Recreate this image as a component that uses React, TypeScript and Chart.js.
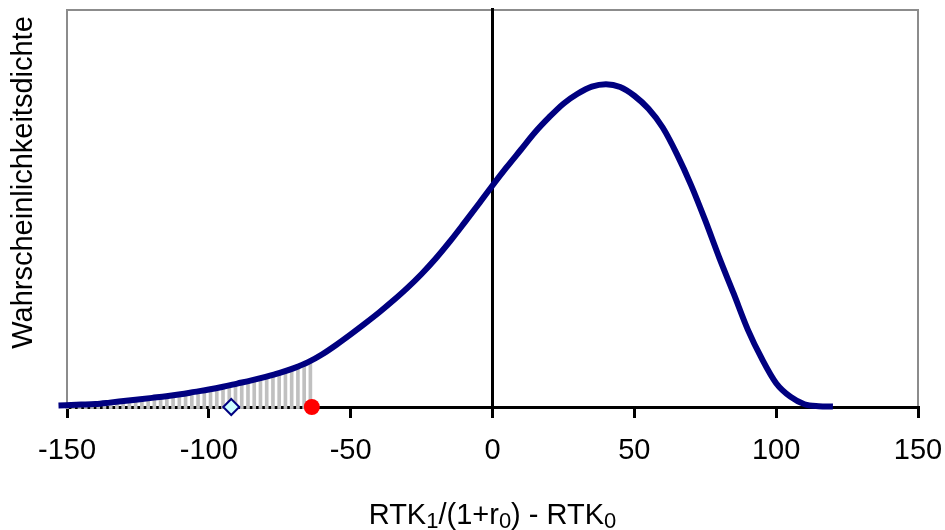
import React, { useEffect, useRef } from 'react';
import { Chart, registerables } from 'chart.js';

Chart.register(...registerables);

const FONT = '"Liberation Sans", Arial, Helvetica, sans-serif';

// x tick values of the horizontal axis
const xTicks = [-150, -100, -50, 0, 50, 100, 150];

// density curve (x = RTK1/(1+r0) - RTK0, y = relative density)
const curveX = [-153, -145, -140, -135, -130, -125, -120, -115, -110, -105, -100, -95, -90, -85, -80, -75, -70, -65, -60, -55, -50, -45, -40, -35, -30, -25, -20, -15, -10, -5, 0, 5, 10, 15, 20, 25, 30, 35, 40, 45, 50, 55, 60, 65, 70, 75, 80, 85, 90, 95, 100, 105, 110, 115, 120];
const curveY = [0.004, 0.006, 0.0075, 0.011, 0.015, 0.019, 0.023, 0.027, 0.032, 0.038, 0.044, 0.051, 0.059, 0.067, 0.076, 0.086, 0.098, 0.113, 0.133, 0.157, 0.183, 0.210, 0.238, 0.268, 0.300, 0.335, 0.374, 0.417, 0.463, 0.510, 0.558, 0.604, 0.648, 0.692, 0.730, 0.764, 0.789, 0.807, 0.813, 0.806, 0.784, 0.751, 0.704, 0.637, 0.559, 0.470, 0.375, 0.286, 0.195, 0.121, 0.060, 0.026, 0.007, 0.002, 0.001];

// shaded left tail (grey drop lines)
const tailX = [-150.0, -147.8, -145.6, -143.4, -141.2, -139.0, -136.8, -134.6, -132.4, -130.2, -128.0, -125.8, -123.6, -121.4, -119.2, -117.0, -114.8, -112.6, -110.4, -108.2, -106.0, -103.8, -101.6, -99.4, -97.2, -95.0, -92.8, -90.6, -88.4, -86.2, -84.0, -81.8, -79.6, -77.4, -75.2, -73.0, -70.8, -68.6, -66.4, -64.2];
const tailY = [0.004, 0.005, 0.006, 0.006, 0.007, 0.008, 0.010, 0.011, 0.013, 0.015, 0.016, 0.018, 0.020, 0.022, 0.023, 0.025, 0.027, 0.030, 0.032, 0.035, 0.037, 0.040, 0.043, 0.046, 0.048, 0.051, 0.055, 0.059, 0.063, 0.067, 0.070, 0.073, 0.077, 0.081, 0.086, 0.091, 0.096, 0.102, 0.108, 0.116];

// markers on the axis
const diamondX = [-92.1];
const diamondY = [0];
const dotX = [-63.7];
const dotY = [0];

// vertical line at zero
const zeroX = [0, 0];
const zeroY = [0, 1.005];

const yTitle = 'Wahrscheinlichkeitsdichte';
// [text, isSubscript]
const xTitleParts: [string, boolean][] = [
  ['RTK', false], ['1', true], ['/(1+r', false], ['0', true], [') - RTK', false], ['0', true],
];

const zip = (xs: number[], ys: number[]) => xs.map((x, i) => ({ x, y: ys[i] }));

const framePlugin = {
  id: 'frame',
  beforeDraw(chart: any) {
    const { ctx, chartArea } = chart;
    const { left, top, right, bottom } = chartArea;
    ctx.save();
    ctx.strokeStyle = '#8c8c8c';
    ctx.lineWidth = 2;
    ctx.strokeRect(left, top, right - left, bottom - top);
    ctx.restore();
  },
};

const titlesPlugin = {
  id: 'titles',
  afterDraw(chart: any) {
    const { ctx, chartArea } = chart;
    ctx.save();
    ctx.fillStyle = '#000';
    // y title
    ctx.save();
    ctx.translate(24, 182.5);
    ctx.rotate(-Math.PI / 2);
    ctx.font = `29px ${FONT}`;
    ctx.textAlign = 'center';
    ctx.textBaseline = 'middle';
    ctx.fillText(yTitle, 0, 0);
    ctx.restore();
    // x title with subscripts
    const mainFont = `29px ${FONT}`;
    const subFont = `22px ${FONT}`;
    let total = 0;
    const widths = xTitleParts.map(([t, sub]) => {
      ctx.font = sub ? subFont : mainFont;
      const w = ctx.measureText(t).width;
      total += w;
      return w;
    });
    const cx = (chartArea.left + chartArea.right) / 2;
    let x = cx - total / 2;
    ctx.textAlign = 'left';
    ctx.textBaseline = 'alphabetic';
    xTitleParts.forEach(([t, sub], i) => {
      ctx.font = sub ? subFont : mainFont;
      ctx.fillText(t, x, sub ? 527.5 : 523.5);
      x += widths[i];
    });
    ctx.restore();
  },
};

export default function App() {
  const ref = useRef<HTMLCanvasElement>(null);
  useEffect(() => {
    document.body.style.margin = '0';
    const canvas = ref.current!;
    const chart = new Chart(canvas, {
      type: 'scatter',
      data: {
        datasets: [
          {
            type: 'scatter',
            data: zip(dotX, dotY),
            pointRadius: 8,
            pointBackgroundColor: '#ff0000',
            pointBorderWidth: 0,
            order: 1,
            clip: false,
          } as any,
          {
            type: 'scatter',
            data: zip(diamondX, diamondY),
            pointStyle: 'rectRot',
            pointRadius: 8,
            pointBackgroundColor: '#ccffff',
            pointBorderColor: '#000080',
            pointBorderWidth: 2,
            order: 2,
            clip: false,
          } as any,
          {
            type: 'line',
            data: zip(curveX, curveY),
            showLine: true,
            borderColor: '#000080',
            borderWidth: 6,
            pointRadius: 0,
            cubicInterpolationMode: 'monotone',
            borderJoinStyle: 'round',
            fill: false,
            order: 3,
            clip: false,
          } as any,
          {
            type: 'line',
            data: zip(zeroX, zeroY),
            showLine: true,
            borderColor: '#000000',
            borderWidth: 3,
            pointRadius: 0,
            fill: false,
            order: 4,
            clip: false,
          } as any,
          {
            type: 'bar',
            data: zip(tailX, tailY),
            backgroundColor: '#c0c0c0',
            barThickness: 3,
            base: -0.004,
            order: 5,
            clip: false,
          } as any,
        ],
      },
      options: {
        animation: false,
        responsive: false,
        devicePixelRatio: 1,
        layout: { padding: { top: 8, right: 27, left: 0, bottom: 0 } },
        plugins: { legend: { display: false }, tooltip: { enabled: false } },
        scales: {
          x: {
            type: 'linear',
            position: 'bottom',
            min: xTicks[0],
            max: xTicks[xTicks.length - 1],
            offset: false,
            afterBuildTicks: (s: any) => { s.ticks = xTicks.map((v) => ({ value: v })); },
            ticks: {
              color: '#000',
              font: { family: FONT, size: 29 },
              padding: 16,
              maxRotation: 0,
              autoSkip: false,
            },
            grid: {
              display: true,
              drawOnChartArea: false,
              drawTicks: true,
              tickLength: 11,
              lineWidth: 3,
              color: '#000',
              offset: false,
            },
            border: { display: true, color: '#000', width: 3 },
            afterFit: (s: any) => { s.height = 123; s.paddingLeft = 0; s.paddingRight = 0; },
          },
          y: {
            type: 'linear',
            min: 0,
            max: 1,
            ticks: { display: false },
            grid: { display: false },
            border: { display: false },
            afterFit: (s: any) => { s.width = 67; s.paddingTop = 0; s.paddingBottom = 0; },
          },
        },
      } as any,
      plugins: [framePlugin, titlesPlugin],
    });
    return () => chart.destroy();
  }, []);
  return (
    <div style={{ width: 945, height: 530 }}>
      <canvas ref={ref} width={945} height={530} />
    </div>
  );
}
